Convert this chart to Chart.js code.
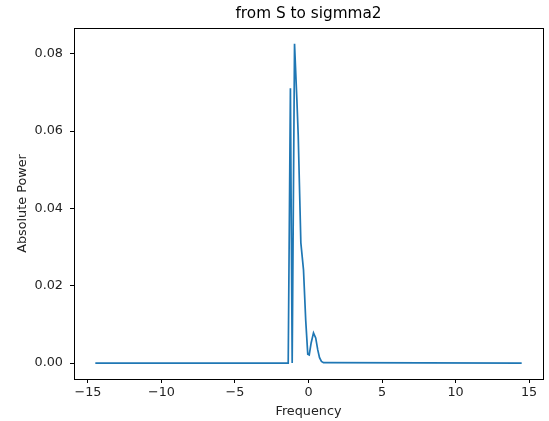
<!DOCTYPE html>
<html>
<head>
<meta charset="utf-8">
<script src="https://cdn.jsdelivr.net/npm/chart.js@4/dist/chart.umd.min.js"></script>
<style>
  html, body { margin: 0; padding: 0; background: #fff; }
  canvas { display: block; }
</style>
</head>
<body>
<canvas id="c" width="549" height="421"></canvas>
<script>
const titleText = 'from S to sigmma2'
const xLabel = 'Frequency'
const yLabel = 'Absolute Power'

// line vertices
const freq = [-14.5, -1.40, -1.38, -1.23, -1.11, -0.95, -0.79, -0.70, -0.52, -0.34, -0.19, -0.05, 0.05, 0.18, 0.34, 0.49, 0.63, 0.75, 0.88, 1.02, 14.5]
const power = [0, 0, 0, 0.0711, 0, 0.0826, 0.0681, 0.0590, 0.0311, 0.0241, 0.0111, 0.0023, 0.0021, 0.0052, 0.0078, 0.0065, 0.0034, 0.0014, 0.0004, 0.0001, 0]

const xTicks = [-15, -10, -5, 0, 5, 10, 15]
const yTicks = [0, 0.02, 0.04, 0.06, 0.08]

const font = { family: 'DejaVu Sans', size: 12.8 }
const minus = v => String(v).replace('-', '\u2212')

const frame = {
  id: 'frame',
  afterDraw(chart) {
    const { ctx, chartArea: a } = chart
    ctx.save()
    ctx.strokeStyle = '#000'
    ctx.lineWidth = 1
    ctx.strokeRect(Math.round(a.left) + 0.5, Math.round(a.top) + 0.5, Math.round(a.right - a.left), Math.round(a.bottom - a.top))
    ctx.fillStyle = '#000'
    ctx.font = '15.3px "DejaVu Sans"'
    ctx.textAlign = 'center'
    ctx.textBaseline = 'middle'
    ctx.fillText(titleText, (a.left + a.right) / 2, 14)
    ctx.restore()
  }
}

new Chart(document.getElementById('c'), {
  type: 'scatter',
  data: {
    datasets: [{
      data: freq.map((x, i) => ({ x, y: power[i] })),
      showLine: true,
      borderColor: '#1f77b4',
      borderWidth: 1.7,
      pointRadius: 0,
      tension: 0,
    }]
  },
  options: {
    responsive: false,
    animation: false,
    devicePixelRatio: 1,
    layout: { padding: { top: 28, right: 6, left: 0, bottom: 0 } },
    plugins: { legend: { display: false }, tooltip: { enabled: false } },
    scales: {
      x: {
        type: 'linear',
        min: -15.95,
        max: 15.95,
        afterFit: s => { s.height = 42 },
        afterBuildTicks: s => { s.ticks = xTicks.map(v => ({ value: v })) },
        grid: { drawOnChartArea: false, tickLength: 4, tickColor: '#000' },
        border: { color: '#000' },
        ticks: { color: '#222', font, padding: 2, maxRotation: 0, callback: v => minus(v) },
        title: { display: true, text: xLabel, color: '#222', font, padding: { top: 0, bottom: 1.6 } },
      },
      y: {
        min: -0.00413,
        max: 0.0867,
        afterFit: s => { s.width = 74 },
        afterBuildTicks: s => { s.ticks = yTicks.map(v => ({ value: v })) },
        grid: { drawOnChartArea: false, tickLength: 4, tickColor: '#000' },
        border: { color: '#000' },
        ticks: { color: '#222', font, padding: 7, callback: v => v.toFixed(2) },
        title: { display: true, text: yLabel, color: '#222', font, padding: { top: 15, bottom: 0 } },
      }
    }
  },
  plugins: [frame]
})
</script>
</body>
</html>
